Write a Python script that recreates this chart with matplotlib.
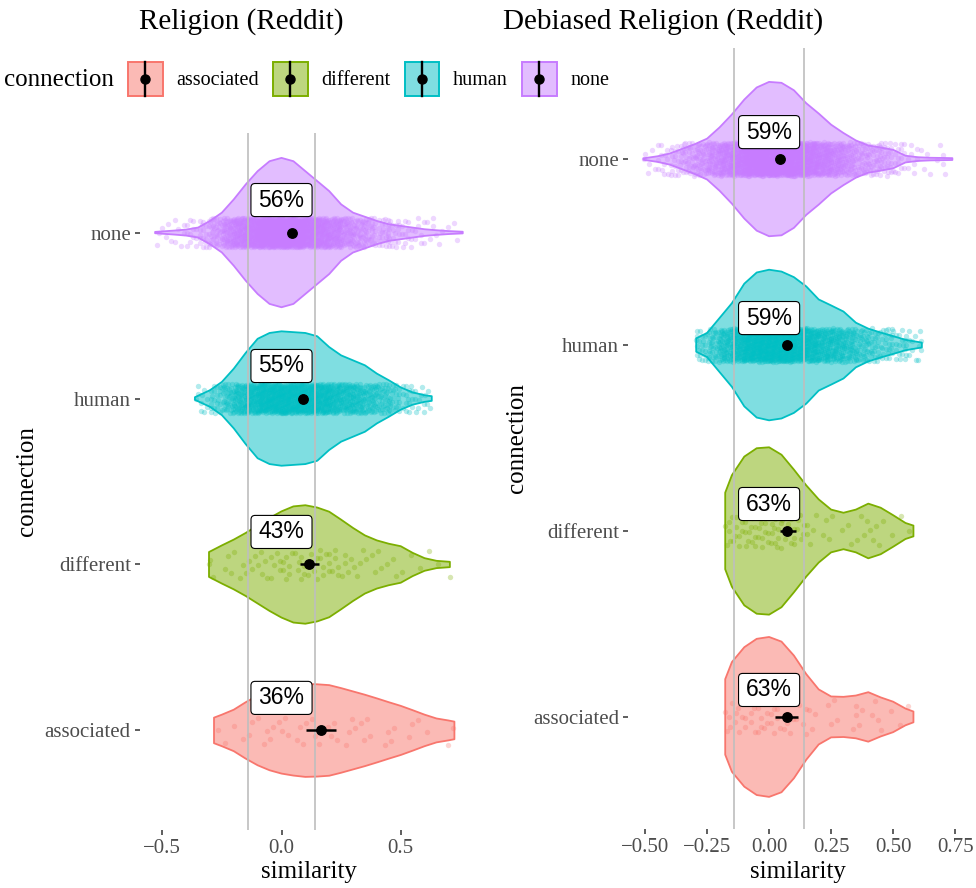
import matplotlib
matplotlib.use("Agg")
import matplotlib.pyplot as plt
import numpy as np
from matplotlib.colors import to_rgba
from matplotlib.patches import BoxStyle, Rectangle

plt.rcParams["font.family"] = ["Liberation Serif", "DejaVu Serif"]

W, H = 976, 888

categories = ["associated", "different", "human", "none"]
colors = ["#F8766D", "#7CAE00", "#00BFC4", "#C77CFF"]
threshold = 0.14

# ---- violin outlines: similarity -> half width (category units)
rel_assoc_x = [-0.283, -0.25, -0.20, -0.15, -0.10, -0.05, 0.00, 0.05, 0.10, 0.15, 0.20,
               0.25, 0.30, 0.35, 0.40, 0.45, 0.50, 0.55, 0.60, 0.65, 0.70, 0.725]
rel_assoc_w = [0.077, 0.095, 0.125, 0.17, 0.21, 0.24, 0.26, 0.272, 0.28, 0.278, 0.273,
               0.255, 0.235, 0.215, 0.193, 0.17, 0.148, 0.122, 0.095, 0.072, 0.06, 0.053]
rel_diff_x = [-0.304, -0.25, -0.20, -0.15, -0.10, -0.05, 0.00, 0.05, 0.10, 0.15, 0.20,
              0.25, 0.30, 0.35, 0.40, 0.45, 0.50, 0.55, 0.60, 0.65, 0.706]
rel_diff_w = [0.075, 0.115, 0.15, 0.19, 0.235, 0.28, 0.32, 0.35, 0.357, 0.343, 0.318,
              0.27, 0.22, 0.175, 0.145, 0.125, 0.11, 0.07, 0.038, 0.022, 0.016]
rel_human_x = [-0.363, -0.30, -0.25, -0.20, -0.15, -0.10, -0.05, 0.00, 0.05, 0.10, 0.15,
               0.20, 0.25, 0.30, 0.35, 0.40, 0.45, 0.50, 0.55, 0.60, 0.63]
rel_human_w = [0.008, 0.05, 0.10, 0.18, 0.275, 0.36, 0.395, 0.405, 0.40, 0.395, 0.375,
               0.31, 0.26, 0.23, 0.20, 0.15, 0.11, 0.067, 0.037, 0.02, 0.014]
rel_none_x = [-0.53, -0.45, -0.40, -0.35, -0.30, -0.25, -0.20, -0.15, -0.10, -0.05, 0.00,
              0.05, 0.10, 0.15, 0.20, 0.25, 0.30, 0.35, 0.40, 0.45, 0.50, 0.55, 0.60,
              0.65, 0.70, 0.76]
rel_none_w = [0.004, 0.012, 0.018, 0.03, 0.07, 0.12, 0.20, 0.29, 0.37, 0.43, 0.45,
              0.43, 0.37, 0.31, 0.25, 0.17, 0.12, 0.095, 0.07, 0.05, 0.04, 0.03, 0.02,
              0.014, 0.009, 0.005]

deb_assoc_x = [-0.177, -0.15, -0.10, -0.05, 0.00, 0.05, 0.10, 0.15, 0.20, 0.25, 0.30,
               0.35, 0.40, 0.45, 0.50, 0.55, 0.582]
deb_assoc_w = [0.203, 0.295, 0.375, 0.42, 0.43, 0.405, 0.33, 0.23, 0.148, 0.11, 0.108,
               0.115, 0.133, 0.105, 0.082, 0.045, 0.029]
deb_diff_x = [-0.177, -0.15, -0.10, -0.05, 0.00, 0.05, 0.10, 0.15, 0.20, 0.25, 0.30,
              0.35, 0.40, 0.45, 0.50, 0.55, 0.582]
deb_diff_w = [0.206, 0.30, 0.40, 0.445, 0.45, 0.41, 0.33, 0.245, 0.17, 0.115, 0.098,
              0.115, 0.147, 0.125, 0.085, 0.043, 0.029]
deb_human_x = [-0.294, -0.25, -0.20, -0.15, -0.10, -0.05, 0.00, 0.05, 0.10, 0.15, 0.20,
               0.25, 0.30, 0.35, 0.40, 0.45, 0.50, 0.55, 0.616]
deb_human_w = [0.036, 0.065, 0.145, 0.225, 0.33, 0.39, 0.405, 0.395, 0.365, 0.315, 0.245,
               0.213, 0.18, 0.12, 0.088, 0.067, 0.048, 0.028, 0.013]
deb_none_x = [-0.507, -0.45, -0.40, -0.35, -0.30, -0.25, -0.20, -0.15, -0.10, -0.05, 0.00,
              0.05, 0.10, 0.15, 0.20, 0.25, 0.30, 0.35, 0.40, 0.45, 0.50, 0.55, 0.60,
              0.65, 0.70, 0.739]
deb_none_w = [0.004, 0.015, 0.03, 0.055, 0.08, 0.11, 0.17, 0.24, 0.32, 0.385, 0.415,
              0.41, 0.37, 0.30, 0.245, 0.185, 0.14, 0.10, 0.073, 0.062, 0.05, 0.018, 0.01,
              0.007, 0.006, 0.005]

# ---- observation counts per similarity bin (bins of 0.05 starting at -0.55)
bin_start, bin_width = -0.55, 0.05
rel_assoc_n = [0, 0, 0, 0, 0, 1, 1, 2, 2, 3, 3, 3, 3, 3, 3, 3, 3, 3, 2, 2, 2, 2, 1, 1, 1, 1, 0]
rel_diff_n = [0, 0, 0, 0, 1, 2, 3, 3, 4, 5, 6, 7, 7, 7, 7, 6, 5, 4, 3, 3, 2, 2, 1, 1, 1, 1, 0]
rel_human_n = [0, 0, 0, 1, 9, 21, 42, 66, 90, 115, 120, 120, 120, 117, 102, 84, 74, 64, 51,
               39, 24, 15, 9, 4, 0, 0, 0]
rel_none_n = [2, 4, 6, 12, 20, 36, 68, 96, 128, 160, 176, 176, 160, 136, 112, 88, 60, 44, 32,
              24, 18, 12, 8, 5, 3, 2, 0]
deb_assoc_n = [0, 0, 0, 0, 0, 0, 0, 4, 6, 7, 8, 8, 6, 5, 3, 2, 2, 2, 3, 3, 2, 1, 1, 0, 0, 0, 0]
deb_diff_n = [0, 0, 0, 0, 0, 0, 0, 5, 9, 11, 11, 11, 9, 7, 5, 3, 2, 2, 4, 4, 2, 1, 1, 0, 0, 0, 0]
deb_human_n = [0, 0, 0, 0, 0, 20, 40, 72, 108, 144, 160, 160, 152, 136, 112, 88, 80, 60, 40,
               30, 23, 16, 10, 5, 0, 0, 0]
deb_none_n = [1, 5, 12, 22, 34, 48, 70, 100, 140, 180, 200, 208, 200, 165, 135, 108, 82, 58,
              40, 32, 28, 15, 8, 4, 3, 2, 0]

# ---- means with intervals and share labels
rel_mean = [0.166, 0.115, 0.091, 0.045]
rel_lo = [0.103, 0.078, 0.086, 0.041]
rel_hi = [0.227, 0.157, 0.096, 0.049]
rel_pct = ["36%", "43%", "55%", "56%"]
deb_mean = [0.071, 0.071, 0.071, 0.042]
deb_lo = [0.024, 0.042, 0.066, 0.038]
deb_hi = [0.118, 0.108, 0.076, 0.046]
deb_pct = ["63%", "63%", "59%", "59%"]


def fx(px):
    return px / W


def fy(py):
    return 1 - py / H


def label_box(x0, y0, width, height, mutation_size):
    hp, vp = 0.33 * mutation_size, 0.22 * mutation_size
    return BoxStyle.Round(pad=0, rounding_size=0.18)(
        x0 - hp, y0 - vp, width + 2 * hp, height + 2 * vp, mutation_size)


def jitter(counts, vmin, vmax, y0, h=0.09):
    xs, ys, n = [], [], 0
    for i, c in enumerate(counts):
        a = max(bin_start + i * bin_width, vmin)
        b = min(bin_start + (i + 1) * bin_width, vmax)
        if b <= a:
            continue
        for _ in range(c):
            xs.append(a + (b - a) * ((0.5 + n * 0.7548776662) % 1))
            ys.append(y0 + h * (2 * ((0.5 + n * 0.5698402910) % 1) - 1))
            n += 1
    return xs, ys


def panel(ax, violins, counts, mean, lo, hi, pct, dy, xlim, ticks, ticklabels):
    for i, col in enumerate(colors):
        y0 = i + 1
        vx, vw = np.asarray(violins[i][0]), np.asarray(violins[i][1])
        px = np.r_[vx, vx[::-1]]
        py = np.r_[y0 + vw, (y0 - vw)[::-1]]
        ax.fill(px, py, fc=to_rgba(col, 0.5), ec=col, lw=1.3, joinstyle="round", zorder=2)
        jx, jy = jitter(counts[i], vx[0], vx[-1], y0)
        ax.scatter(jx, jy, s=15, color=col, alpha=0.3, lw=0, zorder=3)
    for t in (-threshold, threshold):
        ax.axvline(t, color="#BEBEBE", lw=1.2, zorder=4)
    mean, lo, hi = map(np.asarray, (mean, lo, hi))
    ypos = np.arange(1, len(categories) + 1)
    ax.errorbar(mean, ypos, xerr=[mean - lo, hi - mean], fmt="o", color="black",
                ms=6.8, elinewidth=1.8, capsize=0, zorder=6)
    for y0, p in zip(ypos, pct):
        ax.text(0, y0 + dy, p, ha="center", va="center", fontsize=16.5,
                family="Liberation Sans", zorder=7,
                bbox=dict(boxstyle=label_box, fc="white", ec="black", lw=0.8))
    ax.set_xlim(*xlim)
    ax.set_ylim(0.4, 4.6)
    ax.set_xticks(ticks, ticklabels)
    ax.set_yticks(ypos, categories)
    ax.tick_params(length=3.8, width=1.1, color="#333333", labelcolor="#4D4D4D",
                   labelsize=15, pad=3)
    ax.tick_params(axis="y", pad=2.5)
    for s in ax.spines.values():
        s.set_visible(False)
    ax.set_xlabel("similarity", fontsize=18, va="baseline")
    ax.set_ylabel("connection", fontsize=18, va="baseline")


fig = plt.figure(figsize=(W / 100, H / 100), dpi=100)

# legend drawn in pixel space along the top
lax = fig.add_axes([0, 0, 1, 1])
lax.set_xlim(0, W)
lax.set_ylim(H, 0)
lax.axis("off")
lax.patch.set_visible(False)

ax1 = fig.add_axes([fx(139.6), fy(830), 338.9 / W, 697 / H])
ax2 = fig.add_axes([fx(628), fy(828.5), 340 / W, 781 / H])

panel(ax1,
      [(rel_assoc_x, rel_assoc_w), (rel_diff_x, rel_diff_w),
       (rel_human_x, rel_human_w), (rel_none_x, rel_none_w)],
      [rel_assoc_n, rel_diff_n, rel_human_n, rel_none_n],
      rel_mean, rel_lo, rel_hi, rel_pct, 0.196, (-0.595, 0.826),
      [-0.5, 0.0, 0.5], ["\u22120.5", "0.0", "0.5"])
panel(ax2,
      [(deb_assoc_x, deb_assoc_w), (deb_diff_x, deb_diff_w),
       (deb_human_x, deb_human_w), (deb_none_x, deb_none_w)],
      [deb_assoc_n, deb_diff_n, deb_human_n, deb_none_n],
      deb_mean, deb_lo, deb_hi, deb_pct, 0.145, (-0.569, 0.802),
      [-0.5, -0.25, 0.0, 0.25, 0.5, 0.75],
      ["\u22120.50", "\u22120.25", "0.00", "0.25", "0.50", "0.75"])

ax1.xaxis.set_label_coords(0.5, -(878 - 830) / 697)
ax2.xaxis.set_label_coords(0.5, -(878 - 828.5) / 781)
ax1.yaxis.set_label_coords((33 - 139.6) / 338.9, 0.5)
ax2.yaxis.set_label_coords((523.3 - 628) / 340, 0.5)

fig.text(fx(241.7), fy(29), "Religion (Reddit)", ha="center", va="baseline", fontsize=21)
fig.text(fx(663), fy(29), "Debiased Religion (Reddit)", ha="center", va="baseline",
         fontsize=21)

# legend
fig.text(fx(4), fy(86), "connection", fontsize=18, va="baseline")
renderer = fig.canvas.get_renderer()
x, key = 128, 34.5
for cat, col in zip(categories, colors):
    lax.add_patch(Rectangle((x, 62), key, key, fc=to_rgba(col, 0.5), ec=col, lw=1.4))
    lax.plot([x + key / 2] * 2, [62, 62 + key], color="black", lw=1.7)
    lax.plot(x + key / 2, 62 + key / 2, "o", color="black", ms=6.5)
    t = lax.text(x + key + 13.7, 85, cat, fontsize=14.5, va="baseline")
    x = x + key + 13.7 + t.get_window_extent(renderer).width + 14.3

fig.savefig("out.png", dpi=100)
